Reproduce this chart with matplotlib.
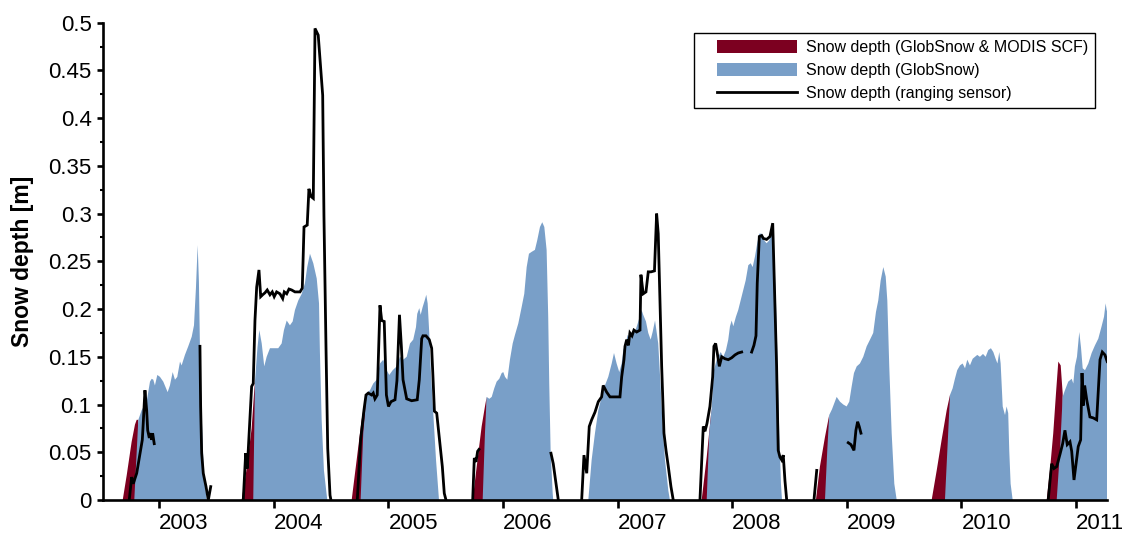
import numpy as np
import matplotlib
matplotlib.use("Agg")
import matplotlib.pyplot as plt
import matplotlib.patches as mpatches
from matplotlib.lines import Line2D
from matplotlib.legend_handler import HandlerPatch, HandlerLine2D
from matplotlib.ticker import MultipleLocator, FuncFormatter

plt.rcParams['font.family'] = ['Liberation Sans', 'DejaVu Sans']

nan = np.nan

# Snow depth from GlobSnow combined with MODIS snow cover fraction (early season)
modis_year = [
    2002.681, 2002.716, 2002.759, 2002.788, 2002.803, 2002.817, 2002.827, nan,
    2003.719, 2003.763, 2003.806, 2003.826, 2003.835, 2003.844, nan,
    2004.679, 2004.708, 2004.737, 2004.766, 2004.795, 2004.810, 2004.821, nan,
    2005.735, 2005.770, 2005.813, 2005.842, 2005.857, 2005.868, nan,
    2007.733, 2007.777, 2007.820, 2007.827, nan,
    2008.730, 2008.765, 2008.809, 2008.846, 2008.857, nan,
    2009.740, 2009.784, 2009.827, 2009.871, 2009.900, 2009.908, nan,
    2010.744, 2010.772, 2010.801, 2010.825, 2010.845, 2010.866, 2010.883, 2010.894,
]
modis_depth = [
    0, 0.026, 0.061, 0.079, 0.084, 0.084, 0, nan,
    0, 0.033, 0.075, 0.110, 0.124, 0, nan,
    0, 0.028, 0.056, 0.084, 0.105, 0.112, 0, nan,
    0, 0.035, 0.077, 0.098, 0.108, 0, nan,
    0, 0.045, 0.096, 0, nan,
    0, 0.035, 0.066, 0.089, 0, nan,
    0, 0.031, 0.063, 0.094, 0.110, 0, nan,
    0, 0.031, 0.070, 0.112, 0.145, 0.141, 0.112, 0,
]

# Snow depth from GlobSnow
globsnow_year = [
    2002.782, 2002.817, 2002.846, 2002.890, 2002.919, 2002.934, 2002.948, 2002.962,
    2002.983, 2003.006, 2003.035, 2003.073, 2003.093, 2003.117, 2003.137, 2003.157,
    2003.181, 2003.195, 2003.224, 2003.253, 2003.283, 2003.303, 2003.320, 2003.335,
    2003.346, 2003.355, 2003.370, 2003.390, 2003.414, nan,
    2003.820, 2003.835, 2003.857, 2003.873, 2003.894, 2003.916, 2003.937, 2003.966,
    2003.995, 2004.038, 2004.068, 2004.088, 2004.112, 2004.140, 2004.164, 2004.184,
    2004.213, 2004.243, 2004.271, 2004.291, 2004.315, 2004.344, 2004.374, 2004.394,
    2004.402, 2004.417, 2004.437, 2004.466, nan,
    2004.757, 2004.780, 2004.810, 2004.839, 2004.867, 2004.897, 2004.926, 2004.955,
    2004.984, 2005.007, 2005.037, 2005.072, 2005.100, 2005.129, 2005.159, 2005.188,
    2005.216, 2005.240, 2005.251, 2005.269, 2005.281, 2005.298, 2005.316, 2005.330,
    2005.342, 2005.356, 2005.368, 2005.391, 2005.415, 2005.441, nan,
    2005.822, 2005.842, 2005.857, 2005.880, 2005.901, 2005.923, 2005.944, 2005.967,
    2005.988, 2006.002, 2006.017, 2006.037, 2006.060, 2006.084, 2006.104, 2006.133,
    2006.162, 2006.185, 2006.206, 2006.226, 2006.250, 2006.278, 2006.298, 2006.322,
    2006.342, 2006.360, 2006.380, 2006.394, 2006.403, 2006.415, 2006.433, 2006.438, nan,
    2006.744, 2006.773, 2006.802, 2006.831, 2006.860, 2006.889, 2006.918, 2006.948,
    2006.968, 2006.991, 2007.014, 2007.035, 2007.049, 2007.070, 2007.087, 2007.107,
    2007.122, 2007.151, 2007.175, 2007.209, 2007.223, 2007.247, 2007.267, 2007.288,
    2007.305, 2007.326, 2007.354, 2007.375, 2007.393, 2007.413, 2007.442, 2007.456, nan,
    2007.777, 2007.799, 2007.820, 2007.840, 2007.864, 2007.899, 2007.922, 2007.945,
    2007.965, 2007.980, 2007.995, 2008.009, 2008.032, 2008.052, 2008.073, 2008.096,
    2008.117, 2008.140, 2008.161, 2008.178, 2008.198, 2008.218, 2008.236, 2008.257,
    2008.277, 2008.300, 2008.323, 2008.346, 2008.364, 2008.381, 2008.396, 2008.410,
    2008.425, 2008.434, nan,
    2008.809, 2008.829, 2008.846, 2008.870, 2008.911, 2008.940, 2008.969, 2008.998,
    2009.021, 2009.042, 2009.062, 2009.086, 2009.114, 2009.143, 2009.173, 2009.202,
    2009.230, 2009.254, 2009.274, 2009.295, 2009.318, 2009.339, 2009.353, 2009.370,
    2009.391, 2009.414, 2009.435, nan,
    2009.856, 2009.900, 2009.923, 2009.943, 2009.963, 2009.987, 2010.010, 2010.031,
    2010.051, 2010.074, 2010.098, 2010.118, 2010.138, 2010.161, 2010.188, 2010.211,
    2010.234, 2010.257, 2010.278, 2010.298, 2010.314, 2010.330, 2010.342, 2010.360,
    2010.380, 2010.394, 2010.408, 2010.417, 2010.429, 2010.447, nan,
    2010.831, 2010.860, 2010.883, 2010.903, 2010.932, 2010.962, 2010.976, 2010.990,
    2011.008, 2011.028, 2011.043, 2011.058, 2011.078, 2011.107, 2011.136, 2011.165,
    2011.194, 2011.223, 2011.244, 2011.258, 2011.267, 2011.278,
]
globsnow_depth = [
    0, 0.084, 0.094, 0.103, 0.124, 0.127, 0.126, 0.120,
    0.131, 0.129, 0.124, 0.113, 0.120, 0.134, 0.126, 0.129,
    0.145, 0.141, 0.152, 0.161, 0.171, 0.183, 0.222, 0.267,
    0.229, 0.159, 0.089, 0.026, 0, nan,
    0, 0.124, 0.160, 0.178, 0.164, 0.140, 0.150, 0.159,
    0.159, 0.159, 0.164, 0.178, 0.188, 0.183, 0.187, 0.199,
    0.209, 0.216, 0.227, 0.244, 0.258, 0.248, 0.232, 0.206,
    0.154, 0.084, 0.031, 0, nan,
    0, 0.070, 0.112, 0.115, 0.122, 0.126, 0.143, 0.147,
    0.136, 0.131, 0.136, 0.140, 0.150, 0.147, 0.150, 0.164,
    0.168, 0.181, 0.195, 0.201, 0.194, 0.202, 0.209, 0.215,
    0.206, 0.175, 0.140, 0.091, 0.042, 0, nan,
    0, 0.070, 0.108, 0.106, 0.108, 0.117, 0.124, 0.127,
    0.133, 0.134, 0.129, 0.126, 0.147, 0.164, 0.173, 0.185,
    0.202, 0.216, 0.244, 0.258, 0.260, 0.262, 0.272, 0.286,
    0.291, 0.286, 0.262, 0.192, 0.122, 0.052, 0.007, 0, nan,
    0, 0.042, 0.070, 0.094, 0.108, 0.120, 0.129, 0.143,
    0.154, 0.143, 0.134, 0.143, 0.157, 0.164, 0.173, 0.168,
    0.175, 0.176, 0.185, 0.199, 0.194, 0.187, 0.175, 0.168,
    0.176, 0.188, 0.164, 0.119, 0.077, 0.042, 0.010, 0, nan,
    0, 0.070, 0.096, 0.136, 0.147, 0.155, 0.150, 0.157,
    0.168, 0.182, 0.188, 0.182, 0.192, 0.199, 0.209, 0.220,
    0.230, 0.246, 0.248, 0.244, 0.255, 0.269, 0.279, 0.279,
    0.272, 0.269, 0.272, 0.279, 0.262, 0.209, 0.140, 0.070,
    0.017, 0, nan,
    0, 0.052, 0.089, 0.095, 0.108, 0.103, 0.100, 0.098,
    0.103, 0.119, 0.133, 0.140, 0.143, 0.150, 0.161, 0.168,
    0.175, 0.197, 0.209, 0.230, 0.244, 0.234, 0.209, 0.140,
    0.070, 0.017, 0, nan,
    0, 0.110, 0.117, 0.127, 0.136, 0.141, 0.143, 0.138,
    0.147, 0.141, 0.148, 0.150, 0.152, 0.150, 0.153, 0.150,
    0.157, 0.159, 0.155, 0.148, 0.143, 0.155, 0.143, 0.098,
    0.089, 0.098, 0.091, 0.052, 0.017, 0, nan,
    0, 0.052, 0.108, 0.115, 0.124, 0.127, 0.122, 0.140,
    0.150, 0.176, 0.160, 0.138, 0.136, 0.143, 0.154, 0.162,
    0.169, 0.182, 0.192, 0.206, 0.199, 0.195,
]

# Snow depth from the ultrasonic ranging sensor (gaps marked with nan)
sensor_year = [
    2002.738, 2002.759, 2002.773, 2002.803, 2002.832, 2002.852, 2002.860, 2002.875,
    2002.890, 2002.899, 2002.913, 2002.925, 2002.934, 2002.942, 2002.956, nan,
    2003.355, 2003.361, 2003.370, 2003.384, 2003.408, 2003.428, 2003.449, nan,
    2003.733, 2003.754, 2003.768, 2003.806, 2003.820, 2003.835, 2003.850, 2003.870,
    2003.885, 2003.902, 2003.922, 2003.942, 2003.966, 2003.986, 2004.003, 2004.024,
    2004.053, 2004.077, 2004.091, 2004.112, 2004.132, 2004.155, 2004.184, 2004.228,
    2004.248, 2004.263, 2004.291, 2004.306, 2004.324, 2004.344, 2004.359, 2004.387,
    2004.426, 2004.437, 2004.455, 2004.470, 2004.490, 2004.498, nan,
    2004.728, 2004.757, 2004.786, 2004.804, 2004.824, 2004.853, 2004.867, 2004.882,
    2004.902, 2004.926, 2004.941, 2004.963, 2004.982, 2005.000, 2005.022, 2005.057,
    2005.074, 2005.096, 2005.113, 2005.127, 2005.159, 2005.202, 2005.251, 2005.269,
    2005.290, 2005.301, 2005.327, 2005.356, 2005.377, 2005.388, 2005.401, 2005.421,
    2005.449, 2005.470, 2005.487, 2005.502, nan,
    2005.735, 2005.749, 2005.764, 2005.778, 2005.790, nan,
    2006.418, 2006.438, 2006.462, 2006.482, nan,
    2006.686, 2006.706, 2006.730, 2006.752, 2006.773, 2006.802, 2006.831, 2006.860,
    2006.874, 2006.904, 2006.933, 2006.962, 2007.020, 2007.035, 2007.055, 2007.064,
    2007.079, 2007.094, 2007.107, 2007.125, 2007.142, 2007.166, 2007.195, 2007.203,
    2007.223, 2007.247, 2007.267, 2007.291, 2007.321, 2007.340, 2007.354, 2007.369,
    2007.384, 2007.404, 2007.422, 2007.442, 2007.465, 2007.485, nan,
    2007.718, 2007.747, 2007.762, 2007.779, 2007.805, 2007.829, 2007.840, 2007.855,
    2007.869, 2007.887, 2007.908, 2007.936, 2007.965, 2007.995, 2008.024, 2008.052,
    2008.082, nan,
    2008.169, 2008.189, 2008.207, 2008.218, 2008.236, 2008.257, 2008.271, 2008.300,
    2008.329, 2008.353, 2008.367, 2008.387, 2008.401, 2008.416, 2008.431, 2008.445,
    2008.460, 2008.475, nan,
    2008.713, 2008.737, nan,
    2009.012, 2009.036, 2009.062, 2009.079, 2009.094, 2009.108, 2009.123, nan,
    2010.757, 2010.787, 2010.807, 2010.831, 2010.860, 2010.883, 2010.903, 2010.923,
    2010.947, 2010.962, 2010.982, 2011.019, 2011.040, 2011.052, 2011.063, 2011.075,
    2011.093, 2011.121, 2011.150, 2011.180, 2011.194, 2011.209, 2011.229, 2011.252,
    2011.272,
]
sensor_depth = [
    0, 0.024, 0.017, 0.028, 0.049, 0.063, 0.080, 0.115,
    0.094, 0.073, 0.065, 0.070, 0.063, 0.070, 0.059, nan,
    0.161, 0.098, 0.049, 0.028, 0.014, 0, 0.014, nan,
    0, 0.049, 0.033, 0.119, 0.122, 0.188, 0.223, 0.241,
    0.213, 0.215, 0.217, 0.220, 0.215, 0.218, 0.213, 0.218,
    0.216, 0.211, 0.218, 0.216, 0.221, 0.220, 0.218, 0.218,
    0.222, 0.286, 0.288, 0.326, 0.318, 0.316, 0.494, 0.487,
    0.424, 0.298, 0.159, 0.054, 0.005, 0, nan,
    0, 0.063, 0.094, 0.110, 0.112, 0.110, 0.112, 0.106,
    0.110, 0.204, 0.188, 0.187, 0.110, 0.098, 0.103, 0.105,
    0.125, 0.194, 0.160, 0.126, 0.106, 0.104, 0.105, 0.126,
    0.169, 0.172, 0.172, 0.168, 0.159, 0.130, 0.093, 0.091,
    0.059, 0.035, 0.007, 0, nan,
    0, 0.044, 0.040, 0.051, 0.053, nan,
    0.049, 0.038, 0.017, 0, nan,
    0, 0.047, 0.028, 0.077, 0.084, 0.092, 0.103, 0.108,
    0.120, 0.113, 0.108, 0.108, 0.108, 0.129, 0.147, 0.161,
    0.168, 0.162, 0.175, 0.172, 0.178, 0.176, 0.178, 0.236,
    0.216, 0.218, 0.239, 0.239, 0.240, 0.300, 0.279, 0.209,
    0.140, 0.070, 0.052, 0.035, 0.014, 0, nan,
    0, 0.077, 0.072, 0.080, 0.098, 0.129, 0.161, 0.164,
    0.154, 0.140, 0.150, 0.148, 0.147, 0.149, 0.152, 0.154,
    0.155, nan,
    0.155, 0.162, 0.172, 0.227, 0.276, 0.277, 0.274, 0.273,
    0.276, 0.290, 0.227, 0.140, 0.052, 0.045, 0.042, 0.047,
    0.020, 0, nan,
    0, 0.031, nan,
    0.060, 0.058, 0.052, 0.073, 0.082, 0.077, 0.070, nan,
    0, 0.038, 0.033, 0.035, 0.048, 0.059, 0.073, 0.058,
    0.061, 0.051, 0.021, 0.056, 0.063, 0.133, 0.099, 0.120,
    0.105, 0.087, 0.086, 0.084, 0.115, 0.147, 0.155, 0.152,
    0.145,
]

year_ticks = list(range(2003, 2012))
year_labels = [str(y) for y in year_ticks]

color_modis = '#7c0020'
color_globsnow = '#799fc8'
color_sensor = 'black'

fig = plt.figure(figsize=(11.34, 5.47), dpi=100)
ax = fig.add_axes([103 / 1134, 47 / 547, 1004 / 1134, 477.3 / 547])

ax.fill_between(np.array(modis_year), 0, np.array(modis_depth),
                color=color_modis, linewidth=0, zorder=1)
ax.fill_between(np.array(globsnow_year), 0, np.array(globsnow_depth),
                color=color_globsnow, linewidth=0, zorder=2)
ax.plot(sensor_year, sensor_depth, color=color_sensor, linewidth=2.0,
        solid_joinstyle='miter', zorder=3)

ax.set_xlim(2002.509, 2011.270)
ax.set_ylim(0, 0.5)

for side in ('top', 'right'):
    ax.spines[side].set_visible(False)
for side in ('left', 'bottom'):
    ax.spines[side].set_linewidth(1.9)
    ax.spines[side].set_zorder(4)

ax.set_xticks(year_ticks)
ax.set_xticklabels(year_labels, ha='left')
ax.yaxis.set_major_locator(MultipleLocator(0.05))
ax.yaxis.set_minor_locator(MultipleLocator(0.025))
ax.yaxis.set_major_formatter(FuncFormatter(lambda v, p: '%g' % round(v, 3)))

ax.tick_params(axis='x', which='major', direction='out', length=5.5, width=1.9,
               labelsize=16, pad=4)
ax.tick_params(axis='y', which='major', direction='out', length=4.2, width=1.9,
               labelsize=16, pad=4)
ax.tick_params(axis='y', which='minor', direction='out', length=2.5, width=1.5)

ax.set_ylabel('Snow depth [m]', fontsize=16.5, fontweight='bold', labelpad=10)


def inset_patch(legend, orig_handle, xdescent, ydescent, width, height, fontsize):
    inset = 1.0 * fontsize
    return mpatches.Rectangle((-xdescent + inset, -ydescent), width - inset, height)


class InsetLine(HandlerLine2D):
    def get_xdata(self, legend, xdescent, ydescent, width, height, fontsize):
        inset = 1.0 * fontsize
        xdata = np.array([-xdescent + inset, -xdescent + width])
        return xdata, xdata


handles = [
    mpatches.Patch(facecolor=color_modis, edgecolor='none'),
    mpatches.Patch(facecolor=color_globsnow, edgecolor='none'),
    Line2D([], [], color=color_sensor, linewidth=2.0),
]
labels = ['Snow depth (GlobSnow & MODIS SCF)', 'Snow depth (GlobSnow)',
          'Snow depth (ranging sensor)']
leg = ax.legend(handles, labels, loc='upper right',
                bbox_to_anchor=((1095 - 103) / 1004, (500 - 33) / 477.3),
                borderaxespad=0, fontsize=11.5, frameon=True, fancybox=False,
                framealpha=1, edgecolor='black', borderpad=0.45,
                handlelength=6.0, handleheight=0.9, handletextpad=0.55,
                labelspacing=0.48,
                handler_map={mpatches.Patch: HandlerPatch(patch_func=inset_patch),
                             Line2D: InsetLine()})
leg.get_frame().set_linewidth(1.0)
leg.set_zorder(5)

fig.savefig('out.png', dpi=100)
